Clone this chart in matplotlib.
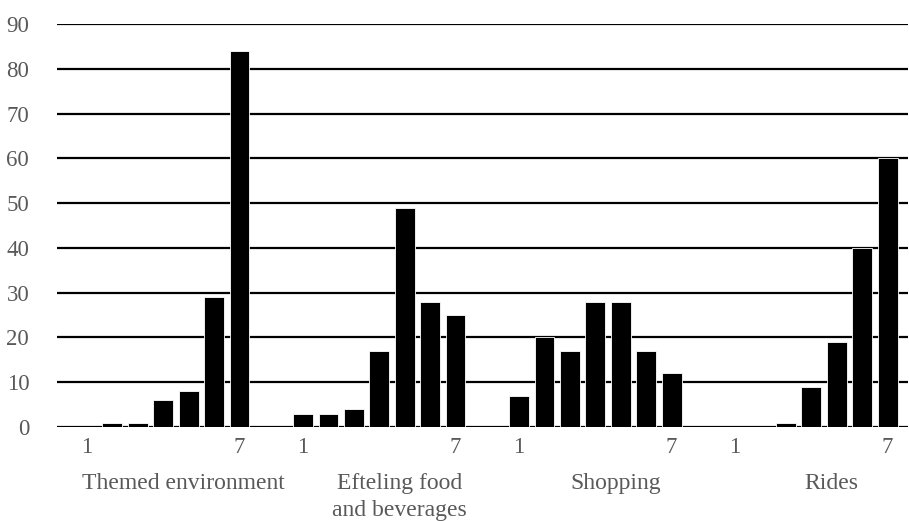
import numpy as np
import matplotlib
matplotlib.use('Agg')
import matplotlib.pyplot as plt

groups = ['Themed environment', 'Efteling food\nand beverages', 'Shopping', 'Rides']
themed = [0, 1, 1, 6, 8, 29, 84]
food = [3, 3, 4, 17, 49, 28, 25]
shopping = [7, 20, 17, 28, 28, 17, 12]
rides = [0, 0, 1, 9, 19, 40, 60]
yticks = [0, 10, 20, 30, 40, 50, 60, 70, 80, 90]

series = [themed, food, shopping, rides]
period = 8.5      # slots per group incl. gap
width = 0.78
grey = '#595959'

plt.rcParams['font.family'] = ['Liberation Serif', 'DejaVu Serif']

fig = plt.figure(figsize=(9.09, 5.21), dpi=100)
ax = fig.add_axes([57 / 909, 94 / 521, 851 / 909, 403 / 521])

# horizontal gridlines behind the bars
for y in yticks:
    ax.axhline(y, color='black', lw=1.6, zorder=1)

tick_pos, tick_lab = [], []
for g, vals in enumerate(series):
    x = g * period + np.arange(len(vals))
    ax.bar(x, vals, width=width, color='black', edgecolor='white', linewidth=0.6, zorder=2)
    tick_pos += [x[0], x[-1]]
    tick_lab += ['1', '7']
    ax.text(x.mean() + 0.8, -10.2, groups[g], ha='center', va='top',
            fontsize=17, color=grey, linespacing=1.4)

ax.set_xlim(-1.18, 32.3)
ax.set_ylim(0, 90)
ax.set_yticks(yticks)
ax.set_xticks(tick_pos)
ax.set_xticklabels(tick_lab)
ax.tick_params(axis='both', length=0, labelsize=16.5, labelcolor=grey)
ax.tick_params(axis='y', pad=20)
ax.tick_params(axis='x', pad=7)
for s in ax.spines.values():
    s.set_visible(False)

fig.savefig('out.png', dpi=100)
